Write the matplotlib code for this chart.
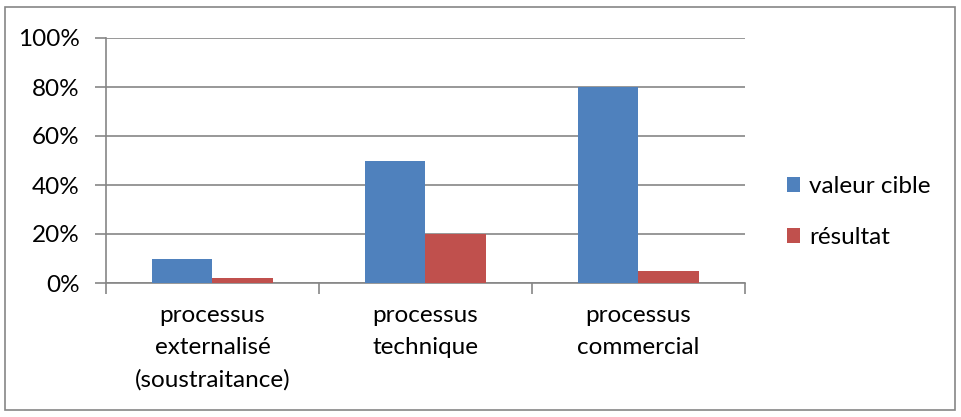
import matplotlib
matplotlib.use("Agg")
import matplotlib.pyplot as plt
from matplotlib.patches import Rectangle
import numpy as np

categories = ["processus\nexternalisé\n(soustraitance)", "processus\ntechnique", "processus\ncommercial"]
series_names = ["valeur cible", "résultat"]
valeur_cible = [0.10, 0.50, 0.80]
resultat = [0.02, 0.20, 0.05]
yticks = [0, 0.2, 0.4, 0.6, 0.8, 1.0]
ytick_labels = ["0%", "20%", "40%", "60%", "80%", "100%"]

blue = "#4F81BD"
red = "#C0504D"
grid = "#868686"

plt.rcParams['font.family'] = ['Lato', 'DejaVu Sans']
FS = 17.5

fig = plt.figure(figsize=(9.61, 4.17), dpi=100)
fig.patches.append(Rectangle((5/961, 7/417), 950/961, 403/417, transform=fig.transFigure,
                             fill=False, edgecolor="#868686", linewidth=1.2))
ax = fig.add_axes([106/961, 1-283/417, (745-106)/961, (283-38)/417])

x = np.arange(len(categories))
w = 1/3.5
ax.bar(x - w/2, valeur_cible, w, color=blue, edgecolor="none", label=series_names[0], zorder=3)
ax.bar(x + w/2, resultat, w, color=red, edgecolor="none", label=series_names[1], zorder=3)

ax.set_xlim(-0.5, len(categories) - 0.5)
ax.set_ylim(0, 1.0)
ax.set_yticks(yticks)
ax.set_yticklabels(ytick_labels, fontsize=FS)
ax.yaxis.grid(True, color=grid, linewidth=1.2, zorder=0)
ax.tick_params(axis='y', length=8, color=grid, width=1.2, pad=11)

ax.set_xticks(np.arange(-0.5, len(categories)))
ax.set_xticklabels([])
ax.set_xticks(x, minor=True)
ax.set_xticklabels(categories, minor=True, fontsize=FS, linespacing=1.63)
ax.tick_params(axis='x', which='major', length=8, color=grid, width=1.2)
ax.tick_params(axis='x', which='minor', length=0, pad=16)

for s in ['top', 'right']:
    ax.spines[s].set_visible(False)
for s in ['left', 'bottom']:
    ax.spines[s].set_color(grid)
    ax.spines[s].set_linewidth(1.2)

leg = ax.legend(loc='center left', bbox_to_anchor=(787/961, 1-212/417), bbox_transform=fig.transFigure,
                frameon=False, fontsize=FS, handlelength=0.55, handleheight=0.55,
                handletextpad=0.35, labelspacing=1.22, borderpad=0, borderaxespad=0)

fig.savefig("out.png", dpi=100)
